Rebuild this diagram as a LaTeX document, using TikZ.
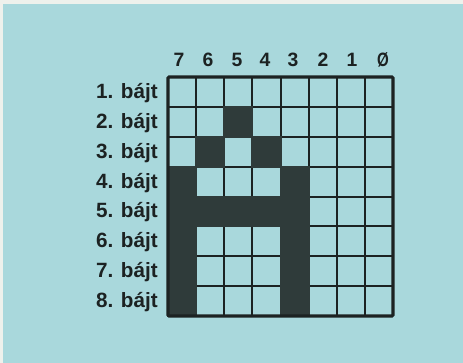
\documentclass[tikz,border=0pt]{standalone}
\usepackage{fontspec}
\setmainfont{Liberation Sans}
\definecolor{bgblue}{HTML}{A9D8DC}
\definecolor{paper}{HTML}{EEF1EC}
\definecolor{darkcell}{HTML}{2F3B3A}
\definecolor{ink}{HTML}{1C2222}
\begin{document}
\begin{tikzpicture}[x=0.75pt,y=-0.75pt,
  rowlbl/.style={font=\fontsize{15.5}{17}\selectfont\bfseries, text=ink, inner sep=0pt, anchor=base east},
  collbl/.style={font=\fontsize{14.5}{17}\selectfont\bfseries, text=ink, inner sep=0pt, anchor=base},
  gridline/.style={draw=ink, line width=1.5pt},
  border/.style={draw=ink, line width=2.3pt, rounded corners=0.8pt},
  filled/.style={fill=darkcell}]
\useasboundingbox (0,0) rectangle (463,363);
\fill[bgblue] (0,0) rectangle (463,363);
\fill[paper] (0,0) rectangle (463,4);
\fill[paper] (0,0) rectangle (3,363);
% grid lines
\foreach \i in {1,...,7} {
  \draw[gridline] ({168+\i*28.125},77) -- ({168+\i*28.125},316);
  \draw[gridline] (168,{77+\i*29.875}) -- (393,{77+\i*29.875});
}
% filled cells (column index from left, row number)
\foreach \c/\r in {2/2, 1/3, 3/3, 0/4, 4/4, 0/5, 1/5, 2/5, 3/5, 4/5, 0/6, 4/6, 0/7, 4/7, 0/8, 4/8}
  \fill[filled] ({168+\c*28.125-1},{77+(\r-1)*29.875-1}) rectangle ++(30.125,31.875);
\draw[border] (168,77) rectangle (393,316);
% column labels
\node[collbl] (c7) at (179,67) {7};
\node[collbl] (c6) at (208,67) {6};
\node[collbl] (c5) at (237,67) {5};
\node[collbl] (c4) at (265,67) {4};
\node[collbl] (c3) at (293,67) {3};
\node[collbl] (c2) at (323,67) {2};
\node[collbl] (c1) at (352,67) {1};
\node[collbl] (c0) at (383,67) {\scalebox{0.78}[1]{Ø}};
% row labels
\foreach \r in {1,...,8}
  \node[rowlbl] (r\r) at (158,{77+(\r-0.5)*29.875+6.5}) {\r. bájt};
\end{tikzpicture}
\end{document}
